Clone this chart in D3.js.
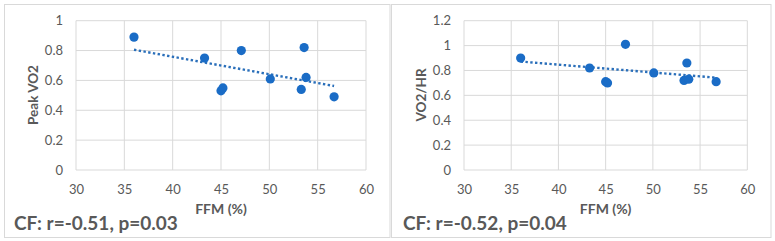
<!DOCTYPE html>
<html><head><meta charset="utf-8">
<script src="https://cdn.jsdelivr.net/npm/d3@7"></script>
<style>body{margin:0;background:#fff}svg{display:block}</style>
</head><body>
<svg id="c" width="775" height="241"></svg>
<script>
const ffm = [36.0, 43.3, 45.0, 45.2, 47.1, 50.1, 53.3, 53.6, 53.8, 56.7];
const peakVO2 = [0.89, 0.75, 0.53, 0.55, 0.80, 0.61, 0.54, 0.82, 0.62, 0.49];
const vo2hr = [0.90, 0.82, 0.71, 0.70, 1.01, 0.78, 0.72, 0.86, 0.73, 0.71];
const xTicks = [30, 35, 40, 45, 50, 55, 60];
const yTicksLeft = [0, 0.2, 0.4, 0.6, 0.8, 1];
const yTicksRight = [0, 0.2, 0.4, 0.6, 0.8, 1, 1.2];
const panels = [
  {box:[4.5, 390], plot:[76, 366], ys:peakVO2, yMax:1, yTicks:yTicksLeft, yTitle:"Peak VO2", yTitleX:33, note:"CF: r=-0.51, p=0.03", noteX:14},
  {box:[391.5, 771], plot:[464, 747.3], ys:vo2hr, yMax:1.2, yTicks:yTicksRight, yTitle:"VO2/HR", yTitleX:421, note:"CF: r=-0.52, p=0.04", noteX:403}
];
const svg = d3.select("#c");
const FONT = "Lato, 'Open Sans', sans-serif";
const grid = "#d9d9d9", txt = "#595959", dot = "#1a6cc6", trend = "#2a6fba";
const fmt = v => String(+v.toFixed(1)).replace(/^0\.0$/, "0");

panels.forEach(p => {
  svg.append("rect").attr("x", p.box[0]).attr("y", 4.5)
    .attr("width", p.box[1]-p.box[0]).attr("height", 233)
    .attr("fill", "#fff").attr("stroke", grid).attr("stroke-width", 1);
  const x = d3.scaleLinear().domain([30, 60]).range(p.plot);
  const y = d3.scaleLinear().domain([0, p.yMax]).range([170, 20.7]);
  const g = svg.append("g");
  g.selectAll(".vx").data(xTicks).join("line")
    .attr("x1", d => x(d)).attr("x2", d => x(d)).attr("y1", y(0)).attr("y2", y(p.yMax))
    .attr("stroke", grid).attr("stroke-width", 1);
  g.selectAll(".hy").data(p.yTicks).join("line")
    .attr("x1", p.plot[0]).attr("x2", p.plot[1]).attr("y1", d => y(d)).attr("y2", d => y(d))
    .attr("stroke", grid).attr("stroke-width", 1);
  const xa = svg.append("g").attr("transform", `translate(0,${y(0)})`)
    .call(d3.axisBottom(x).tickValues(xTicks).tickSize(0).tickPadding(15).tickFormat(d3.format("d")));
  const ya = svg.append("g").attr("transform", `translate(${p.plot[0]},0)`)
    .call(d3.axisLeft(y).tickValues(p.yTicks).tickSize(0).tickPadding(13).tickFormat(fmt));
  [xa, ya].forEach(a => {
    a.select(".domain").remove();
    a.selectAll("text").attr("fill", txt).style("font-family", FONT).style("font-size", "13px");
  });
  const mx = d3.mean(ffm), my = d3.mean(p.ys);
  let sxy = 0, sxx = 0;
  ffm.forEach((v, i) => { sxy += (v-mx)*(p.ys[i]-my); sxx += (v-mx)*(v-mx); });
  const b = sxy/sxx, a0 = my - b*mx;
  const ext = d3.extent(ffm);
  g.append("line")
    .attr("x1", x(ext[0])).attr("y1", y(a0+b*ext[0]))
    .attr("x2", x(ext[1])).attr("y2", y(a0+b*ext[1]))
    .attr("stroke", trend).attr("stroke-width", 2.4).attr("stroke-dasharray", "2.4 2.4");
  g.selectAll("circle").data(ffm.map((v, i) => [v, p.ys[i]])).join("circle")
    .attr("cx", d => x(d[0])).attr("cy", d => y(d[1])).attr("r", 4.6).attr("fill", dot);
  svg.append("text").attr("x", (p.plot[0]+p.plot[1])/2).attr("y", 214)
    .attr("text-anchor", "middle").attr("fill", txt).attr("font-weight", "bold")
    .style("font-family", FONT).style("font-size", "14px").text("FFM (%)");
  svg.append("text").attr("transform", `translate(${p.yTitleX + 5},95) rotate(-90)`)
    .attr("text-anchor", "middle").attr("fill", txt).attr("font-weight", "bold")
    .style("font-family", FONT).style("font-size", "13.5px").text(p.yTitle);
  svg.append("text").attr("x", p.noteX).attr("y", 229.5)
    .attr("fill", txt).attr("font-weight", "bold")
    .style("font-family", FONT).style("font-size", "19px").text(p.note);
});
</script>
</body></html>
